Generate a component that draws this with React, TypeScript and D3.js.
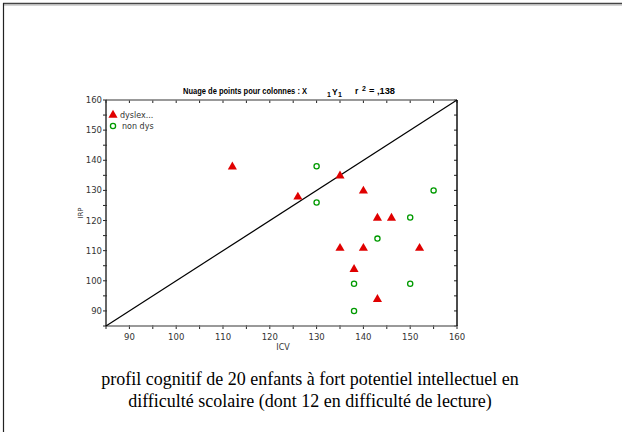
import { useEffect, useRef } from 'react'
import * as d3 from 'd3'

// ICV / IRP scores
const dysICV = [112, 126, 135, 140, 143, 146, 135, 140, 152, 138, 143]
const dysIRP = [138, 128, 135, 130, 121, 121, 111, 111, 111, 104, 94]
const nonICV = [130, 130, 155, 150, 143, 138, 150, 138]
const nonIRP = [138, 126, 130, 121, 114, 99, 99, 90]

const xTicks = [90, 100, 110, 120, 130, 140, 150, 160]
const yTicks = [90, 100, 110, 120, 130, 140, 150, 160]
const legendLabels = ['dyslex...', 'non dys']
const captionLines = [
  'profil cognitif de 20 enfants à fort potentiel intellectuel en',
  'difficulté scolaire (dont 12 en difficulté de lecture)',
]

const RED = '#e00000'
const GREEN = '#009a00'
const W = 622
const H = 432

export default function App() {
  const ref = useRef<SVGSVGElement>(null)

  useEffect(() => {
    const svg = ref.current
    if (!svg) return
    const root = d3.select(svg)
    root.selectAll('*').remove()

    // outer frame (top + left edges only)
    root.append('line').attr('x1', 3).attr('x2', W).attr('y1', 3.5).attr('y2', 3.5)
      .attr('stroke', '#444').attr('stroke-width', 1.5)
    root.append('line').attr('x1', 3).attr('x2', W).attr('y1', 5).attr('y2', 5)
      .attr('stroke', '#aaa').attr('stroke-width', 1)
    root.append('line').attr('x1', 3.5).attr('x2', 3.5).attr('y1', 3).attr('y2', H)
      .attr('stroke', '#222').attr('stroke-width', 1.2)

    const pad = { l: 106, r: 457, t: 100, b: 326 }
    const x = d3.scaleLinear().domain([85, 160]).range([pad.l, pad.r])
    const y = d3.scaleLinear().domain([85, 160]).range([pad.b, pad.t])

    const g = root.append('g')
    const font = 'Verdana, "DejaVu Sans", sans-serif'

    // minor/major ticks every 5
    const every5 = d3.range(85, 161, 5)
    every5.forEach(v => {
      g.append('line').attr('x1', x(v)).attr('x2', x(v)).attr('y1', pad.b - 1).attr('y2', pad.b + 3)
        .attr('stroke', '#222').attr('stroke-width', 1)
      g.append('line').attr('x1', x(v)).attr('x2', x(v)).attr('y1', pad.t).attr('y2', pad.t + 3)
        .attr('stroke', '#222').attr('stroke-width', 1)
      g.append('line').attr('x1', pad.l - 3).attr('x2', pad.l + 1).attr('y1', y(v)).attr('y2', y(v))
        .attr('stroke', '#222').attr('stroke-width', 1)
      g.append('line').attr('x1', pad.r - 3).attr('x2', pad.r).attr('y1', y(v)).attr('y2', y(v))
        .attr('stroke', '#222').attr('stroke-width', 1)
    })

    // box
    g.append('line').attr('x1', pad.l).attr('x2', pad.r).attr('y1', pad.t).attr('y2', pad.t)
      .attr('stroke', '#777').attr('stroke-width', 1.5)
    g.append('line').attr('x1', pad.l).attr('x2', pad.r).attr('y1', pad.b).attr('y2', pad.b)
      .attr('stroke', '#777').attr('stroke-width', 1.5)
    g.append('line').attr('x1', pad.l).attr('x2', pad.l).attr('y1', pad.t).attr('y2', pad.b)
      .attr('stroke', '#333').attr('stroke-width', 1.5)
    g.append('line').attr('x1', pad.r).attr('x2', pad.r).attr('y1', pad.t).attr('y2', pad.b)
      .attr('stroke', '#111').attr('stroke-width', 1.5)

    // tick labels
    g.selectAll('text.xt').data(xTicks).join('text')
      .attr('x', d => x(d)).attr('y', pad.b + 14)
      .attr('text-anchor', 'middle').attr('font-size', 8.5).attr('font-family', font)
      .attr('fill', '#333').text(d => d)
    g.selectAll('text.yt').data(yTicks).join('text')
      .attr('x', pad.l - 4).attr('y', d => y(d) + 3)
      .attr('text-anchor', 'end').attr('font-size', 8.5).attr('font-family', font)
      .attr('fill', '#333').text(d => d)

    // axis titles
    g.append('text').attr('x', 283).attr('y', 350).attr('text-anchor', 'middle')
      .attr('font-size', 8).attr('font-family', font).attr('fill', '#333').text('ICV')
    g.append('text').attr('transform', `translate(83,${(pad.t + pad.b) / 2}) rotate(-90)`)
      .attr('text-anchor', 'middle').attr('font-size', 7).attr('font-family', font)
      .attr('fill', '#333').text('IRP')

    // chart title
    const tf = 'Arial, "Liberation Sans", sans-serif'
    g.append('text').attr('x', 183).attr('y', 94).attr('font-size', 8.5).attr('font-weight', 'bold')
      .attr('font-family', tf).attr('fill', '#000')
      .attr('textLength', 124).attr('lengthAdjust', 'spacingAndGlyphs')
      .text('Nuage de points pour colonnes : X')
    g.append('text').attr('x', 327).attr('y', 97).attr('font-size', 7).attr('font-weight', 'bold')
      .attr('font-family', tf).text('1')
    g.append('text').attr('x', 332).attr('y', 95).attr('font-size', 8.5).attr('font-weight', 'bold')
      .attr('font-family', tf).text('Y')
    g.append('text').attr('x', 338).attr('y', 97).attr('font-size', 7).attr('font-weight', 'bold')
      .attr('font-family', tf).text('1')
    g.append('text').attr('x', 355).attr('y', 94).attr('font-size', 8.5).attr('font-weight', 'bold')
      .attr('font-family', tf).text('r')
    g.append('text').attr('x', 362).attr('y', 91).attr('font-size', 7).attr('font-weight', 'bold')
      .attr('font-family', tf).text('2')
    g.append('text').attr('x', 369).attr('y', 94).attr('font-size', 8.5).attr('font-weight', 'bold')
      .attr('font-family', tf).attr('textLength', 26).attr('lengthAdjust', 'spacingAndGlyphs')
      .text('= ,138')

    // identity line
    g.append('line').attr('x1', x(85)).attr('y1', y(85)).attr('x2', x(160)).attr('y2', y(160))
      .attr('stroke', '#000').attr('stroke-width', 1.2)

    const tri = d3.symbol().type(d3.symbolTriangle).size(36)

    // non dys circles
    g.selectAll('circle.nd').data(nonICV.map((v, i) => [v, nonIRP[i]])).join('circle')
      .attr('cx', d => x(d[0])).attr('cy', d => y(d[1])).attr('r', 2.6)
      .attr('fill', 'none').attr('stroke', GREEN).attr('stroke-width', 1.3)

    // dyslexic triangles
    g.selectAll('path.dy').data(dysICV.map((v, i) => [v, dysIRP[i]])).join('path')
      .attr('transform', d => `translate(${x(d[0])},${y(d[1]) + 0.5})`)
      .attr('d', tri).attr('fill', RED)

    // legend
    g.append('path').attr('transform', 'translate(113,115)').attr('d', tri).attr('fill', RED)
    g.append('circle').attr('cx', 113).attr('cy', 126).attr('r', 2.6)
      .attr('fill', 'none').attr('stroke', GREEN).attr('stroke-width', 1.3)
    legendLabels.forEach((s, i) => {
      g.append('text').attr('x', i === 0 ? 120 : 122).attr('y', 118 + i * 11)
        .attr('font-size', 8).attr('font-family', font).attr('fill', '#333').text(s)
    })

    // caption
    captionLines.forEach((s, i) => {
      root.append('text').attr('x', 310).attr('y', 385 + i * 22).attr('text-anchor', 'middle')
        .attr('font-size', 18).attr('font-family', '"Liberation Serif", serif')
        .attr('fill', '#000').text(s)
    })
  }, [])

  return (
    <svg
      ref={ref}
      width={W}
      height={H}
      style={{ position: 'absolute', left: 0, top: 0, background: '#fff' }}
    />
  )
}
